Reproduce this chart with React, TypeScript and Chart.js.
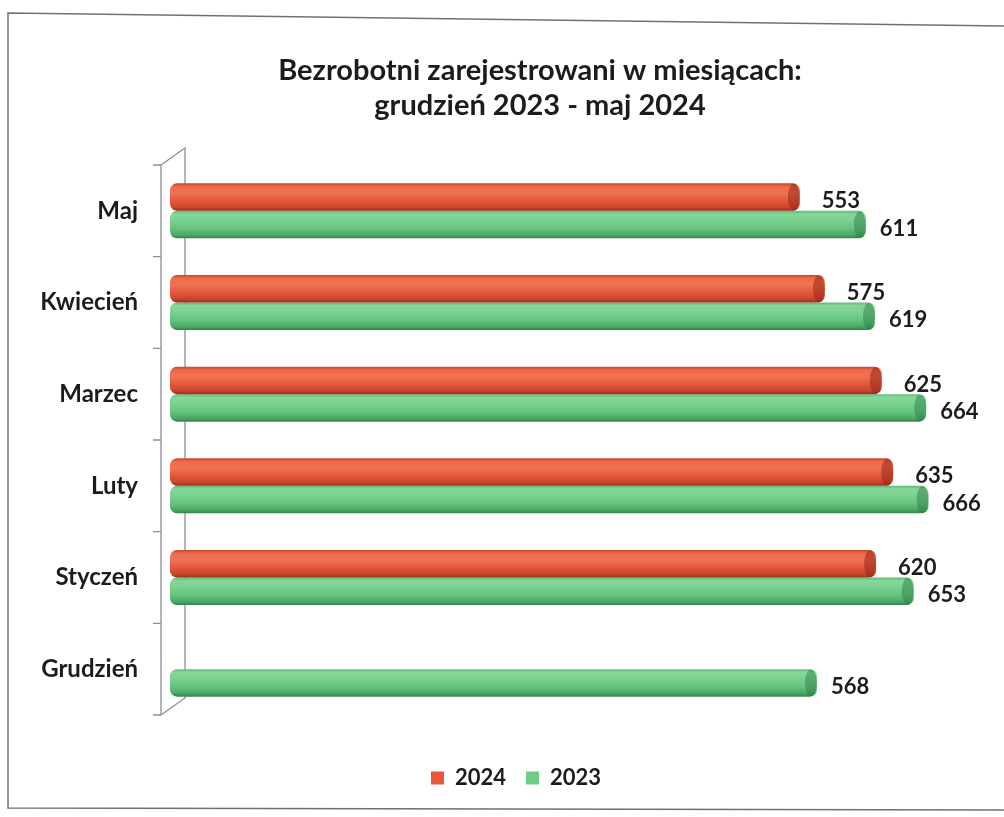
import React, { useEffect, useRef } from 'react';
import { Chart, registerables } from 'chart.js';

Chart.register(...registerables);

const TITLE_LINES = ['Bezrobotni zarejestrowani w miesiącach:', 'grudzień 2023 - maj 2024'];
const MONTHS = ['Maj', 'Kwiecień', 'Marzec', 'Luty', 'Styczeń', 'Grudzień'];
const SERIES_NAMES = ['2024', '2023'];
const VALUES_2024: (number | null)[] = [553, 575, 625, 635, 620, null];
const VALUES_2023: (number | null)[] = [611, 619, 664, 666, 653, 568];
const X_MAX = 720;

const FONT = "Lato, 'Open Sans', 'DejaVu Sans', sans-serif";
const TEXT = '#1c1c1c';
const CAT_PCT = 0.6;
const BAR_PCT = 1.0;

const RED_SOLID = '#e8573d';
const GREEN_SOLID = '#6dcc85';
const RED_CAP = 'rgba(150, 40, 25, 0.55)';
const GREEN_CAP = 'rgba(40, 120, 65, 0.45)';

const RED_STOPS: [number, string][] = [
  [0, '#c2462e'],
  [0.12, '#ee6a4b'],
  [0.35, '#f07354'],
  [0.65, '#e4563a'],
  [0.88, '#c9442b'],
  [1, '#93301e'],
];
const GREEN_STOPS: [number, string][] = [
  [0, '#62b97a'],
  [0.12, '#84d899'],
  [0.35, '#7ad190'],
  [0.65, '#64c37c'],
  [0.88, '#4ca666'],
  [1, '#33814c'],
];

function cylinderFill(stops: [number, string][], solid: string) {
  return (ctx: any) => {
    if (ctx.type !== 'data') return solid;
    const chart = ctx.chart;
    const y = chart.scales && chart.scales.y;
    if (!chart.chartArea || !y) return solid;
    const center = y.getPixelForValue(ctx.dataIndex);
    const cat = Math.abs(y.getPixelForValue(1) - y.getPixelForValue(0));
    const thick = ((cat * CAT_PCT) / 2) * BAR_PCT;
    const c = center + ((ctx.datasetIndex === 0 ? -1 : 1) * (cat * CAT_PCT)) / 4;
    const g = chart.ctx.createLinearGradient(0, c - thick / 2, 0, c + thick / 2);
    stops.forEach(([o, col]) => g.addColorStop(o, col));
    return g;
  };
}

const framePlugin = {
  id: 'frame',
  beforeDraw(chart: any) {
    const { ctx, width } = chart;
    ctx.save();
    ctx.fillStyle = '#ffffff';
    ctx.fillRect(0, 0, chart.width, chart.height);
    ctx.strokeStyle = '#6f6f78';
    ctx.lineWidth = 1.5;
    ctx.beginPath();
    ctx.moveTo(width, 26);
    ctx.lineTo(8, 13);
    ctx.lineTo(8, 808);
    ctx.lineTo(width, 810);
    ctx.stroke();
    ctx.restore();
  },
};

const wallPlugin = {
  id: 'wall',
  beforeDatasetsDraw(chart: any) {
    const { ctx, chartArea } = chart;
    const y = chart.scales.y;
    const cat = Math.abs(y.getPixelForValue(1) - y.getPixelForValue(0));
    const top = y.getPixelForValue(0) - cat / 2;
    const bottom = y.getPixelForValue(MONTHS.length - 1) + cat / 2;
    const fx = chartArea.left - 9;
    const bx = chartArea.left + 15;
    const d = 17;
    ctx.save();
    ctx.strokeStyle = '#8c909c';
    ctx.lineWidth = 1.3;
    ctx.beginPath();
    ctx.moveTo(fx, top);
    ctx.lineTo(fx, bottom);
    ctx.moveTo(fx, top);
    ctx.lineTo(bx, top - d);
    ctx.lineTo(bx, bottom - d);
    ctx.lineTo(fx, bottom);
    for (let i = 0; i <= MONTHS.length; i++) {
      const ty = top + i * cat;
      ctx.moveTo(fx - 8, ty);
      ctx.lineTo(fx, ty);
    }
    ctx.stroke();
    ctx.restore();
  },
};

const capPlugin = {
  id: 'caps',
  afterDatasetsDraw(chart: any) {
    const { ctx } = chart;
    ctx.save();
    chart.data.datasets.forEach((ds: any, di: number) => {
      const meta = chart.getDatasetMeta(di);
      meta.data.forEach((el: any, i: number) => {
        const v = ds.data[i];
        if (v === null || v === undefined) return;
        const h = el.height;
        ctx.fillStyle = di === 0 ? RED_CAP : GREEN_CAP;
        ctx.beginPath();
        ctx.ellipse(el.x - 6, el.y, 6, h / 2 - 0.5, 0, 0, Math.PI * 2);
        ctx.fill();
      });
    });
    ctx.restore();
  },
};

const valueLabelPlugin = {
  id: 'valueLabels',
  afterDatasetsDraw(chart: any) {
    const { ctx } = chart;
    ctx.save();
    ctx.font = `bold 22px ${FONT}`;
    ctx.fillStyle = TEXT;
    ctx.textAlign = 'left';
    ctx.textBaseline = 'middle';
    chart.data.datasets.forEach((ds: any, di: number) => {
      const meta = chart.getDatasetMeta(di);
      meta.data.forEach((el: any, i: number) => {
        const v = ds.data[i];
        if (v === null || v === undefined) return;
        const dx = di === 0 ? 22 : 14;
        ctx.fillText(String(v), el.x + dx, el.y + 4);
      });
    });
    ctx.restore();
  },
};

const titlePlugin = {
  id: 'customTitle',
  afterDraw(chart: any) {
    const { ctx } = chart;
    ctx.save();
    ctx.font = `bold 29px ${FONT}`;
    ctx.fillStyle = TEXT;
    ctx.textAlign = 'center';
    ctx.textBaseline = 'middle';
    ctx.fillText(TITLE_LINES[0], 540, 71);
    ctx.fillText(TITLE_LINES[1], 540, 106);
    ctx.restore();
  },
};

export default function App() {
  const ref = useRef<HTMLCanvasElement | null>(null);

  useEffect(() => {
    if (!ref.current) return;
    const chart = new Chart(ref.current, {
      type: 'bar',
      data: {
        labels: MONTHS,
        datasets: [
          {
            label: SERIES_NAMES[0],
            data: VALUES_2024,
            backgroundColor: cylinderFill(RED_STOPS, RED_SOLID),
            borderWidth: 0,
            borderRadius: 7,
            borderSkipped: false,
            categoryPercentage: CAT_PCT,
            barPercentage: BAR_PCT,
          },
          {
            label: SERIES_NAMES[1],
            data: VALUES_2023,
            backgroundColor: cylinderFill(GREEN_STOPS, GREEN_SOLID),
            borderWidth: 0,
            borderRadius: 7,
            borderSkipped: false,
            categoryPercentage: CAT_PCT,
            barPercentage: BAR_PCT,
          },
        ] as any,
      },
      options: {
        indexAxis: 'y',
        animation: false,
        responsive: false,
        maintainAspectRatio: false,
        layout: { padding: { top: 165, bottom: 18, left: 42, right: 14 } },
        scales: {
          x: {
            display: true,
            min: 0,
            max: X_MAX,
            ticks: { display: false },
            grid: { display: false },
            border: { display: false },
            afterFit: (s: any) => {
              s.height = 32;
            },
          },
          y: {
            grid: { display: false, drawTicks: false },
            border: { display: false },
            ticks: {
              font: { family: FONT, size: 24, weight: 'bold' },
              color: TEXT,
              padding: 32,
            },
            afterFit: (s: any) => {
              s.width = 128;
            },
          },
        } as any,
        plugins: {
          legend: {
            position: 'bottom',
            labels: {
              boxWidth: 13,
              boxHeight: 13,
              padding: 20,
              color: TEXT,
              font: { family: FONT, size: 22, weight: 'bold' },
              generateLabels: () =>
                SERIES_NAMES.map((name, i) => ({
                  text: name,
                  fillStyle: i === 0 ? RED_SOLID : GREEN_SOLID,
                  strokeStyle: i === 0 ? RED_SOLID : GREEN_SOLID,
                  lineWidth: 0,
                  hidden: false,
                  datasetIndex: i,
                  fontColor: TEXT,
                })),
            },
          },
          title: { display: false },
          tooltip: { enabled: false },
        },
      } as any,
      plugins: [framePlugin, wallPlugin, capPlugin, valueLabelPlugin, titlePlugin],
    });
    return () => chart.destroy();
  }, []);

  return (
    <div style={{ position: 'fixed', left: 0, top: 0, width: 1004, height: 817, background: '#ffffff' }}>
      <canvas ref={ref} width={1004} height={817} style={{ display: 'block' }} />
    </div>
  );
}
